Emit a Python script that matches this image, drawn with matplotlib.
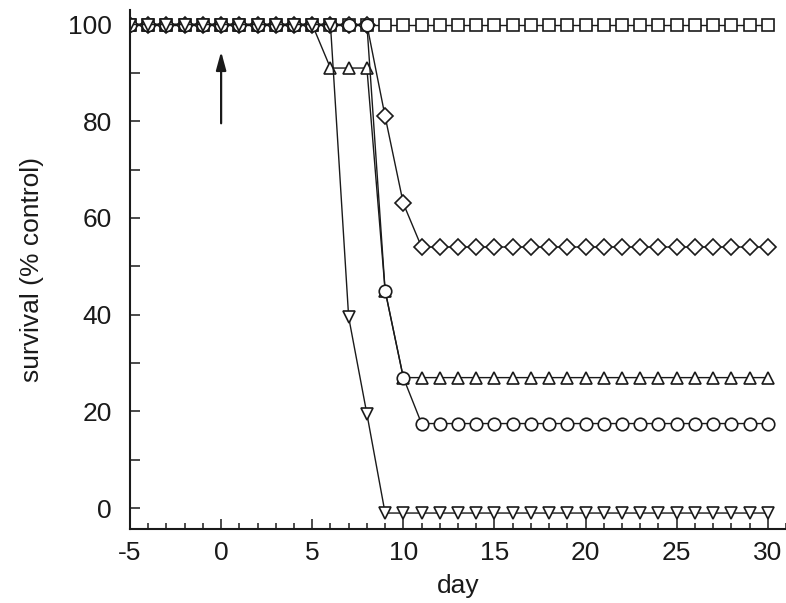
import numpy as np
import matplotlib
matplotlib.use('Agg')
import matplotlib.pyplot as plt
from matplotlib.ticker import MultipleLocator

plt.rcParams['font.family'] = ['Liberation Sans', 'DejaVu Sans']
plt.rcParams['axes.unicode_minus'] = False

# survival data (% control), days -5..30
days = np.arange(-5, 31)

squares = [100] * 36
up_triangles = [100] * 11 + [91, 91, 91, 45, 27] + [27] * 20
diamonds = [100] * 14 + [81, 63] + [54] * 20
circles = [100] * 14 + [45, 27] + [17.5] * 20
down_triangles = [100] * 12 + [39.5, 19.5] + [-1] * 22

# arrow marking treatment day
arrow_day = 0
arrow_from = 79
arrow_to = 95

fig = plt.figure(figsize=(7.86, 6.03), dpi=100)
ax = fig.add_axes([130 / 786, 1 - 529 / 603, 656 / 786, 519 / 603])

ink = '#1a1a1a'
style = dict(color=ink, lw=1.0, markeredgewidth=1.2,
             markerfacecolor='white', markeredgecolor=ink)

ax.plot(days, squares, marker='s', markersize=8, **style)
ax.plot(days, up_triangles, marker='^', markersize=9, **style)
ax.plot(days, diamonds, marker='D', markersize=8, **style)
ax.plot(days, circles, marker='o', markersize=9, **style)
ax.plot(days, down_triangles, marker='v', markersize=9, **style)

ax.annotate('', xy=(arrow_day, arrow_to), xytext=(arrow_day, arrow_from),
            arrowprops=dict(arrowstyle='-|>,head_length=1.1,head_width=0.3',
                            color=ink, lw=1.6))

ax.set_xlim(-5, 31)
ax.set_ylim(-4.3, 103)

ax.xaxis.set_major_locator(MultipleLocator(5))
ax.xaxis.set_minor_locator(MultipleLocator(1))
ax.yaxis.set_major_locator(MultipleLocator(20))
ax.yaxis.set_minor_locator(MultipleLocator(10))

ax.tick_params(axis='x', which='major', direction='in', length=7.5, width=1.1,
               labelsize=19, pad=9, colors=ink)
ax.tick_params(axis='x', which='minor', direction='in', length=4.5, width=1.1,
               colors=ink)
ax.tick_params(axis='y', which='both', direction='in', length=7.5, width=1.1,
               labelsize=19, pad=13, colors=ink)

for side in ['top', 'right']:
    ax.spines[side].set_visible(False)
for side in ['left', 'bottom']:
    ax.spines[side].set_linewidth(1.5)
    ax.spines[side].set_color(ink)

ax.set_xlabel('day', fontsize=19, color=ink, labelpad=6)
ax.set_ylabel('survival (% control)', fontsize=19, color=ink, labelpad=17)

fig.savefig('out.png', dpi=100)
